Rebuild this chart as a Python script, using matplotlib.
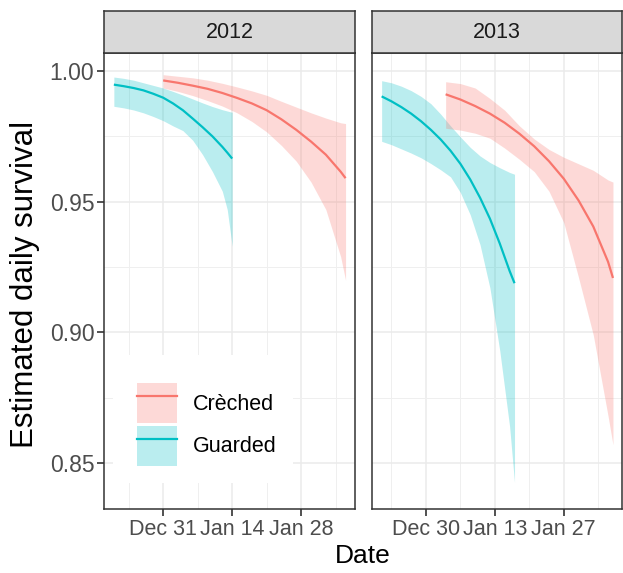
import pandas as pd
import matplotlib
matplotlib.use("Agg")
import matplotlib.pyplot as plt
import matplotlib.dates as mdates
from matplotlib.patches import Patch, Rectangle
from matplotlib.lines import Line2D

plt.rcParams['font.family'] = ['Liberation Sans', 'DejaVu Sans']

# ---- data ----
years = ['2012', '2013']
groups = ['Crèched', 'Guarded']
colors = {'Crèched': '#F8766D', 'Guarded': '#00BFC4'}

g12_dates = ['2012-12-21', '2012-12-23', '2012-12-25', '2012-12-27', '2012-12-29', '2012-12-31',
             '2013-01-02', '2013-01-04', '2013-01-06', '2013-01-08', '2013-01-10', '2013-01-12',
             '2013-01-13', '2013-01-14']
g12_fit = [0.9948, 0.9942, 0.9935, 0.9926, 0.9913, 0.9898, 0.9876, 0.9850, 0.9818, 0.9785,
           0.9750, 0.9710, 0.9688, 0.9665]
g12_hi = [0.9977, 0.9972, 0.9965, 0.9955, 0.9945, 0.9935, 0.9922, 0.9908, 0.9893, 0.9878,
          0.9864, 0.9852, 0.9847, 0.9842]
g12_lo = [0.9865, 0.9859, 0.9851, 0.9840, 0.9826, 0.9810, 0.9790, 0.9772, 0.9735, 0.9680,
          0.9615, 0.9540, 0.9470, 0.9330]

c12_dates = ['2012-12-31', '2013-01-03', '2013-01-06', '2013-01-09', '2013-01-12', '2013-01-15',
             '2013-01-18', '2013-01-21', '2013-01-24', '2013-01-27', '2013-01-30', '2013-02-02',
             '2013-02-05', '2013-02-06']
c12_fit = [0.9964, 0.9955, 0.9944, 0.9932, 0.9916, 0.9897, 0.9876, 0.9850, 0.9815, 0.9775,
           0.9730, 0.9680, 0.9615, 0.9590]
c12_hi = [0.9986, 0.9980, 0.9974, 0.9965, 0.9953, 0.9939, 0.9924, 0.9907, 0.9884, 0.9862,
          0.9840, 0.9820, 0.9802, 0.9799]
c12_lo = [0.9935, 0.9922, 0.9906, 0.9887, 0.9866, 0.9840, 0.9807, 0.9767, 0.9715, 0.9655,
          0.9575, 0.9470, 0.9290, 0.9200]

g13_dates = ['2013-12-21', '2013-12-23', '2013-12-25', '2013-12-27', '2013-12-29', '2013-12-31',
             '2014-01-02', '2014-01-04', '2014-01-06', '2014-01-08', '2014-01-10', '2014-01-12',
             '2014-01-14', '2014-01-16', '2014-01-17']
g13_fit = [0.9903, 0.9884, 0.9862, 0.9837, 0.9808, 0.9775, 0.9738, 0.9695, 0.9645, 0.9585,
           0.9515, 0.9435, 0.9340, 0.9235, 0.9188]
g13_hi = [0.9963, 0.9955, 0.9942, 0.9925, 0.9903, 0.9875, 0.9835, 0.9790, 0.9748, 0.9708,
          0.9675, 0.9650, 0.9630, 0.9612, 0.9605]
g13_lo = [0.9731, 0.9718, 0.9702, 0.9686, 0.9668, 0.9646, 0.9622, 0.9595, 0.9535, 0.9450,
          0.9335, 0.9170, 0.8930, 0.8640, 0.8425]

c13_dates = ['2014-01-03', '2014-01-06', '2014-01-09', '2014-01-12', '2014-01-15', '2014-01-18',
             '2014-01-21', '2014-01-24', '2014-01-27', '2014-01-30', '2014-02-02', '2014-02-05',
             '2014-02-06']
c13_fit = [0.9911, 0.9891, 0.9866, 0.9837, 0.9802, 0.9760, 0.9712, 0.9655, 0.9588, 0.9505,
           0.9405, 0.9270, 0.9208]
c13_hi = [0.9959, 0.9952, 0.9935, 0.9895, 0.9850, 0.9790, 0.9740, 0.9700, 0.9670, 0.9645,
          0.9620, 0.9583, 0.9575]
c13_lo = [0.9781, 0.9774, 0.9762, 0.9743, 0.9705, 0.9662, 0.9615, 0.9540, 0.9420, 0.9210,
          0.8990, 0.8680, 0.8570]

series = {
    '2012': {'Guarded': (g12_dates, g12_fit, g12_lo, g12_hi),
             'Crèched': (c12_dates, c12_fit, c12_lo, c12_hi)},
    '2013': {'Guarded': (g13_dates, g13_fit, g13_lo, g13_hi),
             'Crèched': (c13_dates, c13_fit, c13_lo, c13_hi)},
}

xlims = {'2012': ('2012-12-19', '2013-02-07 22:00'), '2013': ('2013-12-19 01:00', '2014-02-07 20:00')}
major_ticks = {'2012': ['2012-12-31', '2013-01-14', '2013-01-28'],
               '2013': ['2013-12-30', '2014-01-13', '2014-01-27']}
minor_ticks = {'2012': ['2012-12-24', '2013-01-07', '2013-01-21', '2013-02-04'],
               '2013': ['2013-12-23', '2014-01-06', '2014-01-20', '2014-02-03']}
y_ticks = [0.85, 0.90, 0.95, 1.00]
y_labels = ['0.85', '0.90', '0.95', '1.00']
y_minor = [0.875, 0.925, 0.975]

# ---- layout (pixels of a 623x573 canvas) ----
W, H = 623, 573
fig = plt.figure(figsize=(W / 100, H / 100), dpi=100)
panel_x = {'2012': (104, 355), '2013': (372, 622)}
top, bottom, strip_top = 53, 509, 11


def d(s):
    return mdates.date2num(pd.Timestamp(s))


axes = {}
for yr in years:
    x0, x1 = panel_x[yr]
    ax = fig.add_axes([x0 / W, 1 - bottom / H, (x1 - x0) / W, (bottom - top) / H])
    axes[yr] = ax
    for grp in ['Guarded', 'Crèched']:
        dates, fit, lo, hi = series[yr][grp]
        xs = [d(s) for s in dates]
        ax.fill_between(xs, lo, hi, color=colors[grp], alpha=0.27, lw=0, zorder=2)
    for grp in ['Guarded', 'Crèched']:
        dates, fit, lo, hi = series[yr][grp]
        xs = [d(s) for s in dates]
        ax.plot(xs, fit, color=colors[grp], lw=1.6, zorder=3, solid_capstyle='butt')

    ax.set_xlim(d(xlims[yr][0]), d(xlims[yr][1]))
    ax.set_ylim(0.8324, 1.0069)
    ax.set_xticks([d(s) for s in major_ticks[yr]])
    ax.set_xticklabels([pd.Timestamp(s).strftime('%b %d') for s in major_ticks[yr]])
    ax.set_xticks([d(s) for s in minor_ticks[yr]], minor=True)
    ax.set_yticks(y_ticks)
    ax.set_yticks(y_minor, minor=True)
    ax.grid(which='major', color='#EBEBEB', lw=1.1, zorder=0)
    ax.grid(which='minor', color='#EFEFEF', lw=0.7, zorder=0)
    ax.set_axisbelow(True)
    ax.tick_params(which='major', length=5, width=1.2, color='#333333',
                   labelsize=15.5, labelcolor='#4D4D4D', pad=2)
    ax.tick_params(which='minor', length=0)
    if yr == '2012':
        ax.set_yticklabels(y_labels)
        ax.tick_params(axis='y', labelsize=16.5)
    else:
        ax.tick_params(axis='y', which='both', left=False, labelleft=False)
    for sp in ax.spines.values():
        sp.set_color('#333333')
        sp.set_linewidth(1.1)

    sax = fig.add_axes([x0 / W, 1 - top / H, (x1 - x0) / W, (top - strip_top) / H])
    sax.set_facecolor('#D9D9D9')
    sax.set_xticks([])
    sax.set_yticks([])
    for sp in sax.spines.values():
        sp.set_color('#333333')
        sp.set_linewidth(1.1)
    sax.text(0.5, 0.48, yr, ha='center', va='center', fontsize=15.5, color='#1A1A1A',
             transform=sax.transAxes)

# legend inside the 2012 panel, on a white box that hides the grid
lax = axes['2012']
lax.add_patch(Rectangle((0.036, 0.057), 0.717, 0.281, transform=lax.transAxes,
                        facecolor='white', edgecolor='none', zorder=1))
handles = [(Patch(facecolor=colors[g], alpha=0.27, edgecolor='none'),
            Line2D([], [], color=colors[g], lw=1.6)) for g in groups]
lax.legend(handles, groups, loc='upper left', bbox_to_anchor=(0.131, 0.276),
           borderaxespad=0, frameon=False, fontsize=15.5, handlelength=1.86,
           handleheight=2.5, labelspacing=0.1, handletextpad=0.75, borderpad=0)

fig.text(363 / W, 1 - 556 / H, 'Date', ha='center', va='center', fontsize=19)
fig.text(25 / W, 1 - 284 / H, 'Estimated daily survival', ha='center', va='center',
         rotation=90, fontsize=22.5)

fig.savefig('out.png', dpi=100, facecolor='white')
